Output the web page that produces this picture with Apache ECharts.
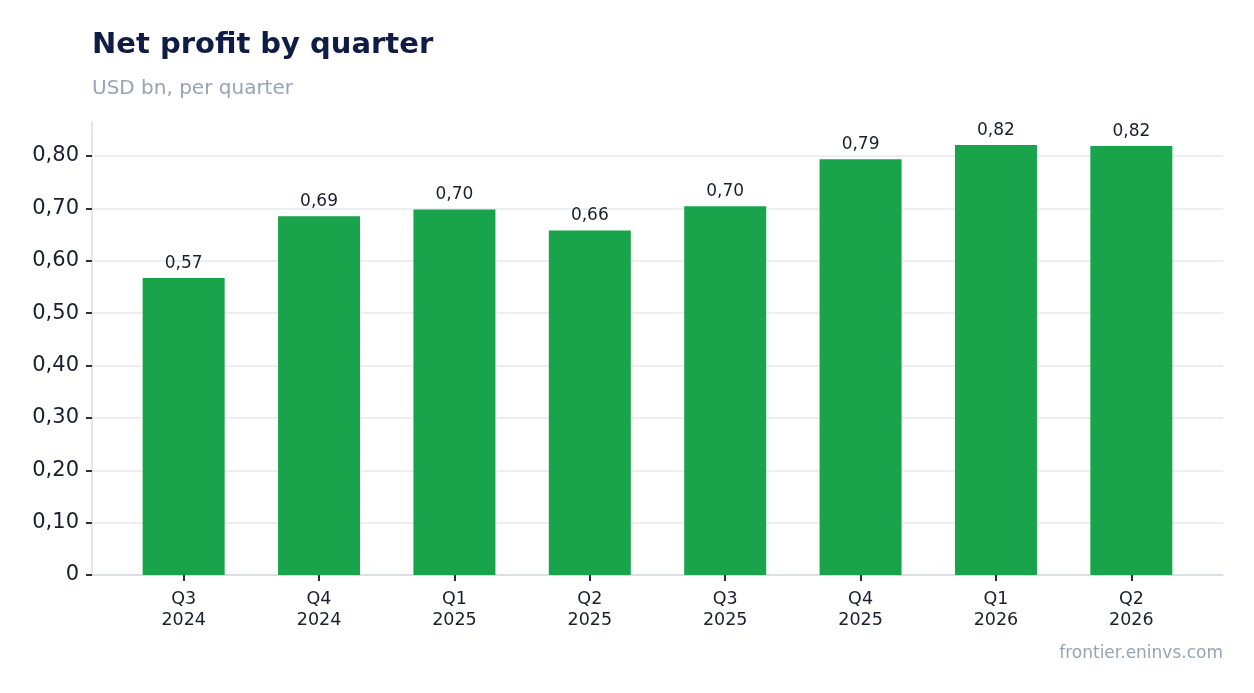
<!DOCTYPE html>
<html>
<head>
<meta charset="utf-8">
<script src="https://cdn.jsdelivr.net/npm/echarts@6/dist/echarts.min.js"></script>
<style>
html,body{margin:0;padding:0;background:#fff;}
#chart{width:1254px;height:693px;}
</style>
</head>
<body>
<div id="chart"></div>
<script>
var quarters = ['Q3\n2024', 'Q4\n2024', 'Q1\n2025', 'Q2\n2025', 'Q3\n2025', 'Q4\n2025', 'Q1\n2026', 'Q2\n2026'];
var profit = [0.567, 0.685, 0.698, 0.658, 0.704, 0.794, 0.821, 0.819];
var yTicks = [0, 0.1, 0.2, 0.3, 0.4, 0.5, 0.6, 0.7, 0.8];
var xIdx = [0, 1, 2, 3, 4, 5, 6, 7];

function fmt(v) {
    if (v === 0) return '0';
    return v.toFixed(2).replace('.', ',');
}

(function () {
    var myChart = echarts.init(document.querySelector('#chart'));
    // x as value axis so the bars can sit with some padding from the y axis line
    var barData = profit.map(function (v, i) { return [xIdx[i], v]; });
    var option = {
        backgroundColor: '#fff',
        textStyle: {fontFamily: 'DejaVu Sans'},
        title: [
            {
                text: 'Net profit by quarter',
                left: 87, top: 26,
                textStyle: {fontSize: 29, fontWeight: 'bold', color: '#0f1c45', fontFamily: 'DejaVu Sans'}
            },
            {
                text: 'USD bn, per quarter',
                left: 87, top: 74,
                textStyle: {fontSize: 20, fontWeight: 'normal', color: '#97a3b6', fontFamily: 'DejaVu Sans'}
            },
            {
                text: 'frontier.eninvs.com',
                right: 26, top: 640,
                textStyle: {fontSize: 17, fontWeight: 'normal', color: '#97a3b6', fontFamily: 'DejaVu Sans'}
            }
        ],
        grid: {left: 92, right: 31, top: 122, bottom: 118, containLabel: false},
        xAxis: {
            type: 'value',
            min: -0.677,
            max: 7.677,
            splitLine: {show: false},
            axisLine: {show: true, onZero: false, lineStyle: {color: '#d5dae3', width: 1.5}},
            axisTick: {show: true, length: 6, customValues: xIdx, lineStyle: {color: '#2a2f3e', width: 2}},
            axisLabel: {
                fontSize: 17.5, color: '#1a1f2e', margin: 14, lineHeight: 21, fontFamily: 'DejaVu Sans',
                customValues: xIdx,
                formatter: function (v) { return quarters[Math.round(v)]; }
            }
        },
        yAxis: {
            type: 'value',
            min: 0,
            max: 0.865,
            interval: 0.1,
            axisLine: {show: true, onZero: false, lineStyle: {color: '#e2e6ee', width: 2}},
            axisTick: {show: true, length: 6, customValues: yTicks, lineStyle: {color: '#2a2f3e', width: 2}},
            axisLabel: {fontSize: 21, color: '#1a1f2e', margin: 13, padding: [4, 0, 0, 0], customValues: yTicks, formatter: fmt, fontFamily: 'DejaVu Sans'},
            splitLine: {show: true, customValues: yTicks, lineStyle: {color: '#e5e8ee', width: 1.5}}
        },
        series: [
            {
                type: 'bar',
                data: barData,
                barWidth: 82,
                itemStyle: {color: '#19a44b'},
                label: {
                    show: true,
                    position: 'top',
                    distance: 6,
                    fontSize: 17,
                    color: '#1a1f2e',
                    fontFamily: 'DejaVu Sans',
                    formatter: function (p) { return fmt(p.value[1]); }
                }
            }
        ]
    };
    myChart.setOption(option);
    window.addEventListener('resize', function () {
        myChart.resize();
    });
})();
</script>
</body>
</html>
